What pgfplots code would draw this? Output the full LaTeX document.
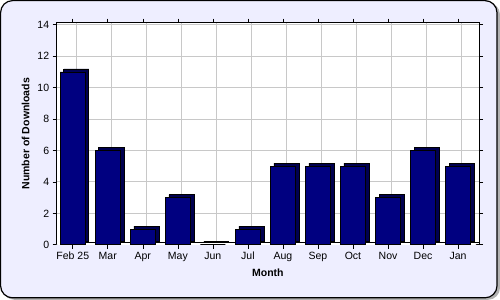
\documentclass[border=0pt]{standalone}
\usepackage{pgfplots}
\pgfplotsset{compat=1.18}
\usepackage{fontspec}
\setmainfont{Liberation Sans}
\definecolor{bgl}{RGB}{238,238,255}
\definecolor{barfront}{RGB}{0,0,128}
\definecolor{barside}{RGB}{0,0,80}
\definecolor{gridc}{RGB}{200,200,200}
\begin{document}
\begin{tikzpicture}[x=1pt,y=1pt]
\fill[gray!60,rounded corners=12pt] (3,0) rectangle (500,297);
\filldraw[fill=bgl,draw=black,line width=1.2pt,rounded corners=12pt] (1,2) rectangle (497,299);
\begin{axis}[
  at={(57pt,55pt)}, anchor=south west,
  scale only axis, width=422.1pt, height=222pt,
  xmin=-0.46, xmax=11.6, ymin=0, ymax=14.13,
  axis background/.style={fill=white},
  xtick={0,...,11},
  xticklabels={Feb 25,Mar,Apr,May,Jun,Jul,Aug,Sep,Oct,Nov,Dec,Jan},
  minor xtick={0.1,1.1,2.1,3.1,4.1,5.1,6.1,7.1,8.1,9.1,10.1,11.1},
  minor tick length=0pt,
  xminorgrids=true, ymajorgrids=true,
  minor grid style={gridc, line width=0.8pt},
  major grid style={gridc, line width=0.8pt},
  ytick={0,2,...,14},
  tick align=outside, major tick length=4pt,
  tick style={black, line width=0.6pt},
  axis line style={black, line width=0.8pt},
  tick label style={font=\fontsize{10.5}{12}\selectfont},
  /pgf/number format/assume math mode=true,
  xlabel={Month}, ylabel={Number of Downloads},
  label style={font=\bfseries\fontsize{10.5}{12}\selectfont},
  xlabel style={yshift=0pt},
  ylabel style={yshift=1pt},
  ybar, bar width=25pt, bar shift=0pt,
  clip=false,
]
\fill[white] (axis cs:-0.46,0) -- (axis cs:11.5,0) -- (axis cs:11.6,0.19) -- (axis cs:-0.36,0.19) -- cycle;
\draw[black, line width=0.6pt] (axis cs:-0.36,0.19) -- (axis cs:11.6,0.19);
\addplot[fill=barside, draw=black, line width=0.6pt, xshift=3.5pt, yshift=3pt] coordinates {
 (0,11) (1,6) (2,1) (3,3) (4,0) (5,1) (6,5) (7,5) (8,5) (9,3) (10,6) (11,5)};
\addplot[fill=barfront, draw=black, line width=0.6pt] coordinates {
 (0,11) (1,6) (2,1) (3,3) (4,0) (5,1) (6,5) (7,5) (8,5) (9,3) (10,6) (11,5)};
\end{axis}
\end{tikzpicture}
\end{document}
